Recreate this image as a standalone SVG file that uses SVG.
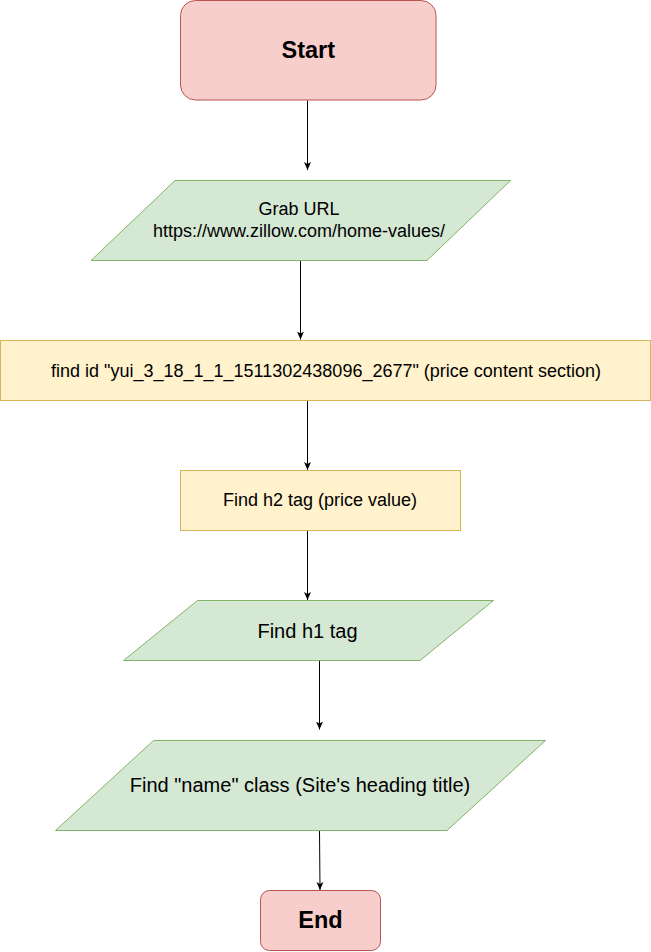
<svg xmlns="http://www.w3.org/2000/svg" width="651" height="952" viewBox="0 0 651 952">
<style>
  .red { fill: #f8cecc; stroke: #b85450; stroke-width: 1; }
  .green { fill: #d5e8d4; stroke: #82b366; stroke-width: 1; }
  .yellow { fill: #fff2cc; stroke: #d6b656; stroke-width: 1; }
  text { font-family: "Liberation Sans", Arial, sans-serif; fill: #000000; text-anchor: middle; dominant-baseline: central; }
  .t18 { font-size: 18px; }
  .t20 { font-size: 20px; }
  .bold { font-size: 23.5px; font-weight: bold; }
  .edge { fill: none; stroke: #000000; stroke-width: 1; }
</style>
<defs>
  <marker id="arrow" viewBox="0 0 8 8" refX="8" refY="4" markerWidth="8" markerHeight="8" markerUnits="userSpaceOnUse" orient="auto">
    <path d="M0,0.5 L8,4 L0,7.5 L2,4 Z" fill="#000000"/>
  </marker>
</defs>
<rect width="651" height="952" fill="#ffffff"/>
<g id="connectors">
  <path class="edge" d="M307.5,100.5 L307.5,170" marker-end="url(#arrow)"/>
  <path class="edge" d="M300.5,260.5 L300.5,339.5" marker-end="url(#arrow)"/>
  <path class="edge" d="M307.5,400.5 L307.5,470" marker-end="url(#arrow)"/>
  <path class="edge" d="M307.5,530.5 L307.5,600" marker-end="url(#arrow)"/>
  <path class="edge" d="M319.5,660.5 L319.5,729.5" marker-end="url(#arrow)"/>
  <path class="edge" d="M319.5,830.5 L320,890" marker-end="url(#arrow)"/>
</g>
<g id="start">
  <rect class="red" x="180.5" y="0.5" width="255.5" height="99.5" rx="15" ry="15"/>
  <text class="bold" x="308.3" y="50">Start</text>
</g>
<g id="grab-url">
  <polygon class="green" points="175,180.5 510.5,180.5 427,260.5 91,260.5"/>
  <text class="t18" x="299" y="209">Grab URL</text>
  <text class="t18" x="299" y="230.5">https://www.zillow.com/home-values/</text>
</g>
<g id="find-id">
  <rect class="yellow" x="0.5" y="340.5" width="650" height="60"/>
  <text class="t18" x="326" y="370.5">find id "yui_3_18_1_1_1511302438096_2677" (price content section)</text>
</g>
<g id="find-h2">
  <rect class="yellow" x="180.5" y="470.5" width="280" height="60"/>
  <text class="t18" x="320" y="500">Find h2 tag (price value)</text>
</g>
<g id="find-h1">
  <polygon class="green" points="197.5,600.5 493.5,600.5 420,660.5 123.5,660.5"/>
  <text class="t20" x="307.5" y="630.5">Find h1 tag</text>
</g>
<g id="find-name">
  <polygon class="green" points="153.5,740.5 545.5,740.5 447,830.5 55.5,830.5"/>
  <text class="t20" x="300" y="785">Find "name" class (Site's heading title)</text>
</g>
<g id="end">
  <rect class="red" x="260.5" y="890.5" width="120" height="60" rx="9" ry="9"/>
  <text class="bold" x="320.5" y="920">End</text>
</g>
</svg>
